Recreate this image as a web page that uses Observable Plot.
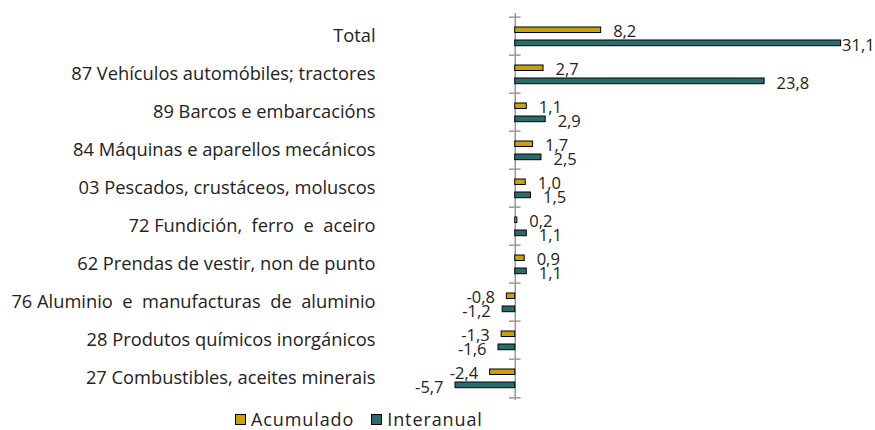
<!DOCTYPE html>
<html><head><meta charset="utf-8">
<script src="https://cdn.jsdelivr.net/npm/d3@7"></script>
<script src="https://cdn.jsdelivr.net/npm/@observablehq/plot@0.6"></script>
<style>
body{margin:0;background:#fff;font-family:"Open Sans",sans-serif;}
#chart svg{display:block;}
#chart svg text{white-space:pre;}
.legend{display:flex;align-items:center;height:22px;margin-left:235px;font-size:18px;letter-spacing:0.9px;color:#222;}
.legend span.sw{display:inline-block;width:9px;height:9px;border:1px solid #000;margin-right:5px;}
.legend .item{display:flex;align-items:center;margin-right:17px;}
</style></head>
<body>
<div id="chart"></div>
<div class="legend">
 <div class="item"><span class="sw" style="background:#C9A10B"></span>Acumulado</div>
 <div class="item"><span class="sw" style="background:#2B6B6E"></span>Interanual</div>
</div>
<script>
const categories = ["Total","87 Vehículos automóbiles; tractores","89 Barcos e embarcacións","84 Máquinas e aparellos mecánicos","03 Pescados, crustáceos, moluscos","72 Fundición,  ferro  e  aceiro","62 Prendas de vestir, non de punto","76 Aluminio  e  manufacturas  de  aluminio","28 Produtos químicos inorgánicos","27 Combustibles, aceites minerais"];
const acumulado = [8.2, 2.7, 1.1, 1.7, 1.0, 0.2, 0.9, -0.8, -1.3, -2.4];
const interanual = [31.1, 23.8, 2.9, 2.5, 1.5, 1.1, 1.1, -1.2, -1.6, -5.7];

const rows = categories.map((c,i)=>({cat:c, acum:acumulado[i], inter:interanual[i]}));
const fmt = v => v.toFixed(1).replace(".", ",");
const gold = "#C9A10B", teal = "#2B6B6E";
const H = 408, mT = 13, mB = 8;
const bw = (H - mT - mB) / categories.length;
const maxInter = d3.max(interanual);
const lbl = {fontSize: 16.5, fill: "#222", letterSpacing: "0.8px"};

const plot = Plot.plot({
  width: 875, height: H,
  marginTop: mT, marginBottom: mB, marginLeft: 410, marginRight: 25,
  style: {fontFamily: "Open Sans, sans-serif", fontSize: "18px", color: "#222"},
  x: {domain: [-10, 32], axis: null},
  y: {domain: categories, padding: 0, label: null, axis: null},
  marks: [
    Plot.ruleX([0], {stroke: "#999", strokeWidth: 1.5}),
    Plot.ruleY(categories, {y: d => d, x1: -0.55, x2: 0.55, dy: -bw/2, stroke: "#999", strokeWidth: 1.5}),
    Plot.ruleY(categories.slice(-1), {y: d => d, x1: -0.55, x2: 0.55, dy: bw/2, stroke: "#999", strokeWidth: 1.5}),
    Plot.barX(rows, {x: "acum", y: "cat", fill: gold, stroke: "#000", strokeWidth: 1, insetTop: 10, insetBottom: 22.5}),
    Plot.barX(rows, {x: "inter", y: "cat", fill: teal, stroke: "#000", strokeWidth: 1, insetTop: 23, insetBottom: 9.3}),
    Plot.text(rows.filter(d=>d.acum>=0), {x: "acum", y: "cat", text: d=>fmt(d.acum), textAnchor: "start", dx: 12, dy: -4.5, ...lbl}),
    Plot.text(rows.filter(d=>d.acum<0), {x: "acum", y: "cat", text: d=>fmt(d.acum), textAnchor: "end", dx: -12, dy: -4.5, ...lbl}),
    Plot.text(rows.filter(d=>d.inter>=0 && d.inter<maxInter), {x: "inter", y: "cat", text: d=>fmt(d.inter), textAnchor: "start", dx: 12, dy: 9, ...lbl}),
    Plot.text(rows.filter(d=>d.inter===maxInter), {x: "inter", y: "cat", text: d=>fmt(d.inter), textAnchor: "start", dx: 1, dy: 9, ...lbl}),
    Plot.text(rows.filter(d=>d.inter<0), {x: "inter", y: "cat", text: d=>fmt(d.inter), textAnchor: "end", dx: -12, dy: 9, ...lbl}),
    Plot.axisY({tickSize: 0, tickPadding: 35, fontSize: 18.3, fill: "#222", label: null})
  ]
});
document.getElementById("chart").appendChild(plot);
</script>
</body></html>
